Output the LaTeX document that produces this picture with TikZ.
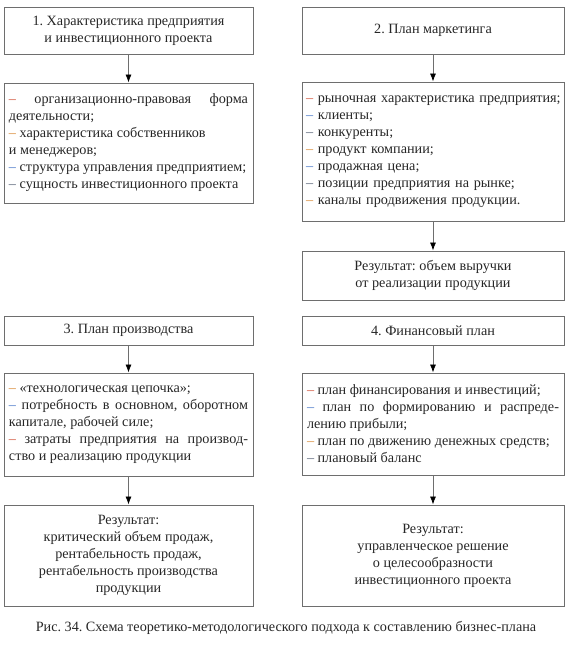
\documentclass[tikz,border=0pt]{standalone}
\usepackage{fontspec}
\setmainfont{Liberation Serif}
\usetikzlibrary{arrows.meta}
\frenchspacing
\definecolor{boxgray}{HTML}{6E6E6E}
\definecolor{txt}{HTML}{262626}
\definecolor{dred}{HTML}{D2553C}
\definecolor{dorange}{HTML}{D98C3A}
\definecolor{dblue}{HTML}{4A78C8}
\definecolor{dslate}{HTML}{5A6478}
\definecolor{dteal}{HTML}{4A8A96}
\newcommand{\dR}{\textcolor{dred}{–}}
\newcommand{\dO}{\textcolor{dorange}{–}}
\newcommand{\dB}{\textcolor{dblue}{–}}
\newcommand{\dS}{\textcolor{dslate}{–}}
\newcommand{\dT}{\textcolor{dteal}{–}}
\tikzset{
  x=1pt,y=1pt,
  basebox/.style={draw=boxgray, line width=0.9pt, text=txt, inner xsep=5pt, inner ysep=0pt,
    font=\fontsize{14.2}{17}\selectfont},
  titlebox/.style={basebox, align=center},
  listbox/.style={basebox, align=justify},
  resbox/.style={basebox, align=center},
  conn/.style={draw=boxgray, line width=0.8pt, -{Latex[length=8pt,width=6pt,black]}},
  captionnode/.style={text=txt, font=\fontsize{14.2}{17}\selectfont, inner sep=0pt}
}
\begin{document}
\begin{tikzpicture}
\useasboundingbox (0,0) rectangle (570,-649);
% left column: x 4..253 (w 249), right column: x 302..564 (w 262)
\node[titlebox, minimum width=249pt, minimum height=47pt] (t1) at (128.5,-30.5)
  {1. Характеристика предприятия\\и инвестиционного проекта};
\node[listbox, text width=239pt, minimum height=120pt] (l1) at (128.5,-143)
  {\dR{} организационно-правовая форма\linebreak деятельности;\par
   \dO{} характеристика собственников\\и менеджеров;\par
   \dB{} структура управления предприятием;\par
   \dS{} сущность инвестиционного проекта};

\node[titlebox, minimum width=262pt, minimum height=47pt] (t2) at (433,-30.5)
  {2. План маркетинга};
\node[listbox, align=left, inner xsep=4pt, text width=254pt, minimum height=139pt] (l2) at (433,-151.5)
  {\mbox{\dR{} рыночная характеристика предприятия;}\\
   \dB{} клиенты;\\
   \dS{} конкуренты;\\
   \dO{} продукт компании;\\
   \dB{} продажная цена;\\
   \dS{} позиции предприятия на рынке;\\
   \dO{} каналы продвижения продукции.};
\node[resbox, minimum width=262pt, minimum height=49pt] (r2) at (433,-275.5)
  {Результат: объем выручки\\от реализации продукции};

\node[titlebox, minimum width=249pt, minimum height=29pt] (t3) at (128.5,-330.5)
  {3. План производства};
\node[listbox, text width=239pt, minimum height=103pt] (l3) at (128.5,-424.5)
  {\dO{} «технологическая цепочка»;\par
   \dB{} потребность в основном, оборотном\linebreak капитале, рабочей силе;\par
   \dR{} затраты предприятия на производ-\linebreak ство и реализацию продукции};
\node[resbox, minimum width=249pt, minimum height=101pt] (r3) at (128.5,-555.5)
  {Результат:\\критический объем продаж,\\рентабельность продаж,\\рентабельность производства\\продукции};

\node[titlebox, minimum width=262pt, minimum height=29pt] (t4) at (433,-330.5)
  {4. Финансовый план};
\node[listbox, text width=252pt, minimum height=102pt] (l4) at (433,-424)
  {\dR{} план финансирования и инвестиций;\par
   \dB{} план по формированию и распреде-\linebreak лению прибыли;\par
   \dO{} план по движению денежных средств;\par
   \dS{} плановый баланс};
\node[resbox, minimum width=262pt, minimum height=101pt] (r4) at (433,-555.5)
  {Результат:\\управленческое решение\\о целесообразности\\инвестиционного проекта};

\node[captionnode] (cap) at (286,-628)
  {Рис. 34. Схема теоретико-методологического подхода к составлению бизнес-плана};

\draw[conn] (t1) -- (l1);
\draw[conn] (t2) -- (l2);
\draw[conn] (l2) -- (r2);
\draw[conn] (t3) -- (l3);
\draw[conn] (l3) -- (r3);
\draw[conn] (t4) -- (l4);
\draw[conn] (l4) -- (r4);
\end{tikzpicture}
\end{document}
